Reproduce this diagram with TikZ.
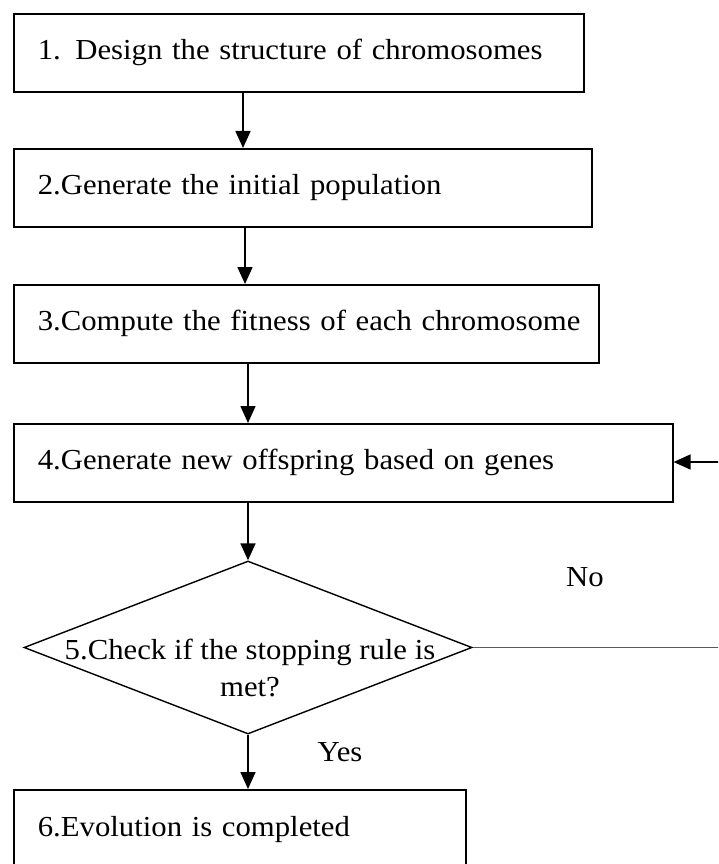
\documentclass[tikz,border=0pt]{standalone}
\usepackage{fontspec}
\setmainfont{Liberation Serif}[FakeStretch=1.06]
\usetikzlibrary{arrows.meta,shapes.geometric}
\begin{document}
\begin{tikzpicture}[x=1pt,y=-1pt,
  txt/.style={font=\fontsize{29}{37}\selectfont},
  box/.style={draw,line width=1.6pt,rectangle,minimum height=78pt,inner xsep=24pt,inner ysep=0pt,align=left,anchor=north west,txt},
  arr/.style={line width=1.6pt,-{Triangle[length=17pt,width=15pt]}},
  lbl/.style={inner sep=0pt,txt}]
\useasboundingbox (0,0) rectangle (718,864);
\clip (0,0) rectangle (718,864);
\fill[white] (0,0) rectangle (718,864);

\node[box,text width=522pt] (b1) at (13,13) {\mbox{1. Design the structure of chromosomes}};
\node[box,text width=530pt] (b2) at (13,148) {\mbox{2.Generate the initial population}};
\node[box,text width=537pt] (b3) at (13,284) {\mbox{3.Compute the fitness of each chromosome}};
\node[box,text width=611pt] (b4) at (13,423) {\mbox{4.Generate new offspring based on genes}};
\node[draw,diamond,minimum width=448pt,minimum height=173pt,inner sep=0pt,line width=1.4pt] (dia) at (248,647.5) {};
\node[lbl,align=center] (dt) at (250,668) {5.Check if the stopping rule is\\met?};
\node[box,text width=404pt,minimum height=80pt] (b6) at (13,789) {\mbox{6.Evolution is completed}\\[28pt]};

\node[lbl] (no) at (585,577) {No};
\node[lbl] (yes) at (340,752) {Yes};

\coordinate (rin) at (720,462);
\coordinate (rout) at (720,647.5);

\draw[arr] ([xshift=230pt]b1.south west) -- ([xshift=230pt]b2.north west);
\draw[arr] ([xshift=232pt]b2.south west) -- ([xshift=232pt]b3.north west);
\draw[arr] ([xshift=235pt]b3.south west) -- ([xshift=235pt]b4.north west);
\draw[arr] (dia.north |- b4.south) -- (dia.north);
\draw[arr] (dia.south) -- (dia.south |- b6.north);
\draw[line width=1pt,gray!70!black] (dia.east) -- (rout);
\draw[arr] (rin) -- (b4.east |- rin);
\end{tikzpicture}
\end{document}
